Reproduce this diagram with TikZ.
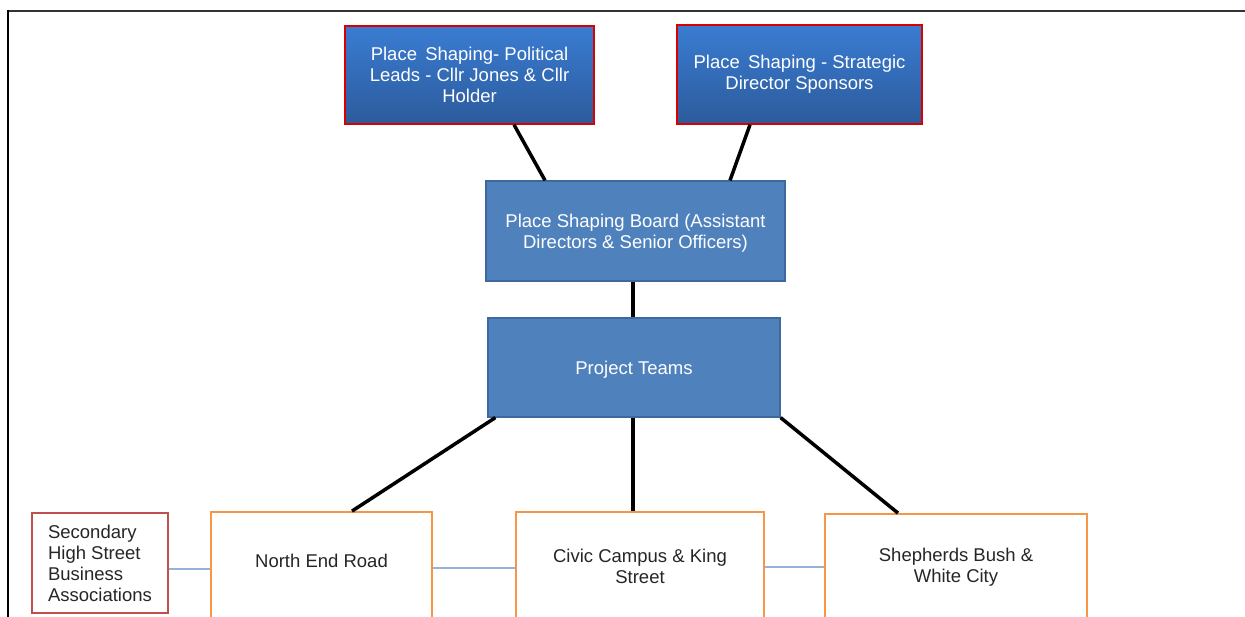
\documentclass[tikz,border=0pt]{standalone}
\usepackage{fontspec}
\setmainfont{Liberation Sans}
\begin{document}
\begin{tikzpicture}[x=1pt,y=-1pt,
  every node/.style={font=\fontsize{18.5}{21}\selectfont, align=center, inner sep=0pt},
  topbox/.style={draw=red!85!black, line width=1.5pt, top color=blue1, bottom color=blue2, text=white, rectangle},
  midbox/.style={draw=boardedge, line width=1.2pt, fill=boardfill, text=white, rectangle},
  areabox/.style={draw=areaorange, line width=1.8pt, fill=white, text=black!85, rectangle},
  secbox/.style={draw=secred, line width=1.8pt, fill=white, text=black!85, rectangle, align=left},
  tie/.style={line width=3.5pt, black},
  link/.style={line width=1.5pt, linkblue}
]
\definecolor{blue1}{HTML}{3A7CD2}
\definecolor{blue2}{HTML}{2C5B9C}
\definecolor{boardfill}{HTML}{4F81BD}
\definecolor{boardedge}{HTML}{3C6A9E}
\definecolor{areaorange}{HTML}{F79646}
\definecolor{secred}{HTML}{C0504D}
\definecolor{linkblue}{HTML}{95B3D7}
\useasboundingbox (0,0) rectangle (1245,617);
\fill[white] (0,0) rectangle (1245,617);
% frame
\draw[line width=2.5pt, black!80] (8,11) -- (1245,11);
\draw[line width=2.5pt, black] (8,10) -- (8,617);

\node[topbox, minimum width=249pt, minimum height=98pt] (pol) at (469.5,75) {Place\, Shaping- Political\\Leads - Cllr Jones \& Cllr\\Holder};
\node[topbox, minimum width=245pt, minimum height=99pt] (strat) at (799.5,74.5) {Place\, Shaping - Strategic\\Director Sponsors};
\node[midbox, minimum width=299pt, minimum height=100pt, text depth=0pt] (board) at (635.5,231) {Place Shaping Board (Assistant\\Directors \& Senior Officers)};
\node[midbox, minimum width=292pt, minimum height=99pt, text depth=0pt] (pt) at (634,367.5) {Project Teams};

\node[secbox, minimum width=136pt, minimum height=100pt] (sec) at (100,563) {Secondary\\High Street\\Business\\Associations};
\node[areabox, minimum width=221pt, minimum height=108pt, text depth=10pt] (ner) at (321.5,566) {North End Road};
\node[areabox, minimum width=248pt, minimum height=108pt] (civ) at (640,566) {Civic Campus \& King\\Street};
\node[areabox, minimum width=262pt, minimum height=106pt] (she) at (956,567) {Shepherds Bush \&\\White City};

\draw[tie] ([xshift=44.5pt]pol.south) -- ([xshift=-90.5pt]board.north);
\draw[tie] ([xshift=-49.5pt]strat.south) -- ([xshift=94.5pt]board.north);
\draw[tie] ([xshift=-2.5pt]board.south) -- ([xshift=-1pt]pt.north);
\draw[tie] ([xshift=8pt]pt.south west) -- ([xshift=30.5pt]ner.north);
\draw[tie] ([xshift=-1pt]pt.south) -- ([xshift=-7pt]civ.north);
\draw[tie] (pt.south east) -- ([xshift=-58pt]she.north);

\draw[link] ([yshift=-6pt]sec.east) -- ([yshift=-6pt]sec.east -| ner.west);
\draw[link] ([yshift=-2pt]ner.east) -- ([yshift=-2pt]ner.east -| civ.west);
\draw[link] ([yshift=-1pt]civ.east) -- ([yshift=-1pt]civ.east -| she.west);
\end{tikzpicture}
\end{document}
